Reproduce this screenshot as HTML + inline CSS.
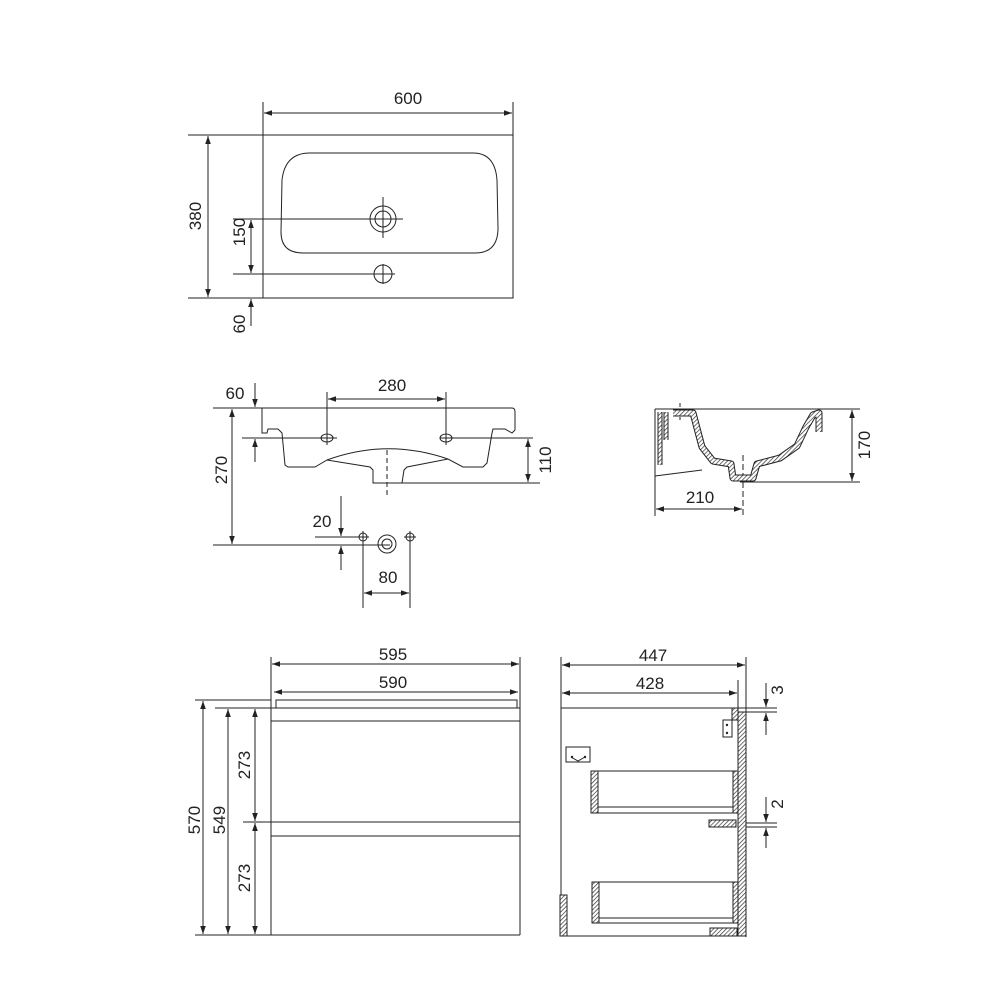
<!DOCTYPE html>
<html><head><meta charset="utf-8"><style>
html,body{margin:0;padding:0;background:#fff}
svg{display:block}
text{font-family:"Liberation Sans",sans-serif;font-size:17px;fill:#222}
</style></head><body>
<svg width="1000" height="1000" viewBox="0 0 1000 1000" xmlns="http://www.w3.org/2000/svg">
<defs>
<marker id="a" viewBox="0 0 10 10" refX="10" refY="5" markerWidth="10" markerHeight="8" orient="auto-start-reverse" markerUnits="userSpaceOnUse"><path d="M0,1.5 L10,5 L0,8.5 Z" fill="#222"/></marker>
<pattern id="h" width="3" height="3" patternUnits="userSpaceOnUse" patternTransform="rotate(45)"><rect width="3" height="3" fill="#fff"/><line x1="0" y1="0" x2="0" y2="3" stroke="#333" stroke-width="1.4"/></pattern>
</defs>
<g stroke="#222" stroke-width="1" fill="none">
<!-- TOP VIEW -->
<rect x="263" y="135" width="250" height="163"/>
<path d="M310,153 L473,153 Q495,153 497,180 L498,228 Q498,253 475,253 L303,253 Q281,253 281,232 L282,180 Q285,153 310,153 Z"/>
<circle cx="383" cy="219" r="13"/><circle cx="383" cy="219" r="8"/>
<line x1="383" y1="197" x2="383" y2="238"/>
<circle cx="383" cy="274" r="9"/><line x1="383" y1="264" x2="383" y2="284"/><line x1="373" y1="274" x2="395" y2="274"/>
<line x1="233" y1="219" x2="403" y2="219"/>
<line x1="233" y1="274" x2="373" y2="274"/>
<line x1="263" y1="102" x2="263" y2="135"/><line x1="513" y1="102" x2="513" y2="135"/>
<line x1="264" y1="113" x2="512" y2="113" marker-start="url(#a)" marker-end="url(#a)"/>
<line x1="188" y1="135" x2="263" y2="135"/><line x1="188" y1="298" x2="268" y2="298"/>
<line x1="208" y1="136" x2="208" y2="297" marker-start="url(#a)" marker-end="url(#a)"/>
<line x1="251" y1="220" x2="251" y2="273" marker-start="url(#a)" marker-end="url(#a)"/>
<line x1="251" y1="326" x2="251" y2="299" marker-end="url(#a)"/>

<!-- FRONT VIEW -->
<line x1="213" y1="408" x2="262" y2="408"/>
<path d="M262,408 L512,408 Q515,408 515,412 L515,430 L512,433 L505,429 L493,429 L492,433 L487,463 L483,467 L463,467 L448,459 L407,467 L404,470 L402,483 L373,483 L373,470 L370,467 L327,460 L315,467 L288,467 L285,465 L282,433 L278,429 L268,429 L267,433 L262,433 Z"/>
<path d="M327,460 Q387,438 448,459"/>
<line x1="387" y1="450" x2="387" y2="495" stroke-dasharray="5,3"/>
<ellipse cx="327" cy="438" rx="6" ry="4"/><ellipse cx="446" cy="438" rx="6" ry="4"/>
<line x1="242" y1="438" x2="337" y2="438"/><line x1="440" y1="438" x2="533" y2="438"/>
<line x1="327" y1="392" x2="327" y2="445"/><line x1="446" y1="392" x2="446" y2="445"/>
<line x1="328" y1="399" x2="445" y2="399" marker-start="url(#a)" marker-end="url(#a)"/>
<line x1="255" y1="383" x2="255" y2="407" marker-end="url(#a)"/>
<line x1="255" y1="462" x2="255" y2="439" marker-end="url(#a)"/>
<line x1="213" y1="545" x2="390" y2="545"/>
<line x1="232" y1="409" x2="232" y2="544" marker-start="url(#a)" marker-end="url(#a)"/>
<line x1="402" y1="483" x2="540" y2="483"/>
<line x1="528" y1="439" x2="528" y2="482" marker-start="url(#a)" marker-end="url(#a)"/>
<circle cx="363" cy="537" r="4"/><line x1="363" y1="531" x2="363" y2="608"/><line x1="357" y1="537" x2="369" y2="537"/>
<circle cx="410" cy="537" r="4"/><line x1="410" y1="531" x2="410" y2="608"/><line x1="404" y1="537" x2="416" y2="537"/>
<circle cx="387" cy="544" r="9"/><circle cx="387" cy="544" r="5"/>
<line x1="315" y1="537" x2="360" y2="537"/>
<line x1="341" y1="496" x2="341" y2="536" marker-end="url(#a)"/>
<line x1="341" y1="570" x2="341" y2="546" marker-end="url(#a)"/>
<line x1="364" y1="593" x2="409" y2="593" marker-start="url(#a)" marker-end="url(#a)"/>

<!-- SIDE SECTION -->
<line x1="655" y1="409" x2="860" y2="409"/>
<line x1="740" y1="482" x2="860" y2="482"/>
<line x1="655" y1="409" x2="655" y2="516"/>
<line x1="655" y1="476" x2="702" y2="470"/>
<line x1="852" y1="410" x2="852" y2="481" marker-start="url(#a)" marker-end="url(#a)"/>
<line x1="743" y1="455" x2="743" y2="516" stroke-dasharray="6,3"/>
<line x1="680" y1="403" x2="680" y2="420" stroke-dasharray="4,3"/>
<line x1="656" y1="509" x2="742" y2="509" marker-start="url(#a)" marker-end="url(#a)"/>
<path d="M673,413 L693,413 L702,447 L713,461 L731,464 L733,478 L753,478 L757,464 L780,458 L797,446 L806,427 L813,415 L819,413 L819,432" stroke="#222" stroke-width="7" stroke-linejoin="round"/>
<path d="M673,413 L693,413 L702,447 L713,461 L731,464 L733,478 L753,478 L757,464 L780,458 L797,446 L806,427 L813,415 L819,413 L819,432" stroke="url(#h)" stroke-width="5" stroke-linejoin="round"/>
<path d="M660,412 L660,465 M666,412 L666,440" stroke="#222" stroke-width="5"/>
<path d="M660,412 L660,465 M666,412 L666,440" stroke="url(#h)" stroke-width="3"/>

<!-- CABINET FRONT -->
<line x1="271" y1="657" x2="271" y2="935"/><line x1="520" y1="657" x2="520" y2="935"/>
<line x1="272" y1="664" x2="519" y2="664" marker-start="url(#a)" marker-end="url(#a)"/>
<line x1="274" y1="692" x2="518" y2="692" marker-start="url(#a)" marker-end="url(#a)"/>
<path d="M276,708 L276,700 L517,700 L517,708"/>
<line x1="195" y1="700" x2="271" y2="700"/>
<line x1="215" y1="708" x2="520" y2="708"/>
<line x1="271" y1="721" x2="520" y2="721"/>
<line x1="243" y1="822" x2="520" y2="822"/>
<line x1="271" y1="836" x2="520" y2="836"/>
<line x1="195" y1="935" x2="520" y2="935"/>
<line x1="203" y1="701" x2="203" y2="934" marker-start="url(#a)" marker-end="url(#a)"/>
<line x1="228" y1="709" x2="228" y2="934" marker-start="url(#a)" marker-end="url(#a)"/>
<line x1="255" y1="709" x2="255" y2="821" marker-start="url(#a)" marker-end="url(#a)"/>
<line x1="255" y1="823" x2="255" y2="934" marker-start="url(#a)" marker-end="url(#a)"/>

<!-- CABINET SIDE -->
<line x1="561" y1="657" x2="561" y2="936"/><line x1="746" y1="657" x2="746" y2="937"/>
<line x1="738" y1="680" x2="738" y2="710"/>
<line x1="562" y1="665" x2="745" y2="665" marker-start="url(#a)" marker-end="url(#a)"/>
<line x1="562" y1="693" x2="737" y2="693" marker-start="url(#a)" marker-end="url(#a)"/>
<line x1="561" y1="708" x2="777" y2="708"/>
<line x1="745" y1="712" x2="777" y2="712"/>
<line x1="561" y1="936" x2="746" y2="936"/>
<rect x="738" y="712" width="8" height="224" fill="url(#h)"/>
<rect x="732" y="708" width="6" height="12" fill="url(#h)"/>
<rect x="723" y="720" width="9" height="17" fill="#fff"/>
<rect x="566" y="747" width="24" height="15"/>
<path d="M571,757 L578,761 L585,757"/>
<rect x="591" y="771" width="7" height="42" fill="url(#h)"/>
<rect x="733" y="771" width="5" height="42" fill="url(#h)"/>
<line x1="598" y1="771" x2="733" y2="771"/>
<line x1="598" y1="807" x2="733" y2="807"/>
<line x1="598" y1="813" x2="733" y2="813"/>
<rect x="709" y="820" width="27" height="7" fill="url(#h)"/>
<line x1="746" y1="823" x2="777" y2="823"/><line x1="746" y1="827" x2="777" y2="827"/>
<rect x="592" y="882" width="7" height="41" fill="url(#h)"/>
<rect x="733" y="882" width="5" height="41" fill="url(#h)"/>
<line x1="599" y1="882" x2="733" y2="882"/>
<line x1="599" y1="918" x2="733" y2="918"/>
<line x1="599" y1="923" x2="733" y2="923"/>
<rect x="560" y="895" width="7" height="41" fill="url(#h)"/>
<rect x="710" y="928" width="27" height="8" fill="url(#h)"/>
<line x1="766" y1="683" x2="766" y2="707" marker-end="url(#a)"/>
<line x1="766" y1="735" x2="766" y2="713" marker-end="url(#a)"/>
<line x1="766" y1="797" x2="766" y2="822" marker-end="url(#a)"/>
<line x1="766" y1="848" x2="766" y2="828" marker-end="url(#a)"/>
</g>
<g fill="#222" stroke="none">
<circle cx="727" cy="725" r="1.2"/><circle cx="727" cy="733" r="1.2"/>
<circle cx="572" cy="757" r="1.2"/><circle cx="585" cy="757" r="1.2"/>
</g>
<g text-anchor="middle">
<text x="408" y="104">600</text>
<text transform="translate(201,216) rotate(-90)">380</text>
<text transform="translate(245,232) rotate(-90)">150</text>
<text transform="translate(245,324) rotate(-90)">60</text>
<text x="235" y="399">60</text>
<text x="392" y="391">280</text>
<text transform="translate(227,470) rotate(-90)">270</text>
<text transform="translate(551,460) rotate(-90)">110</text>
<text x="322" y="527">20</text>
<text x="388" y="583">80</text>
<text transform="translate(870,445) rotate(-90)">170</text>
<text x="700" y="503">210</text>
<text x="393" y="660">595</text>
<text x="393" y="688">590</text>
<text x="653" y="661">447</text>
<text x="650" y="689">428</text>
<text transform="translate(200,820) rotate(-90)">570</text>
<text transform="translate(225,820) rotate(-90)">549</text>
<text transform="translate(250,765) rotate(-90)">273</text>
<text transform="translate(250,878) rotate(-90)">273</text>
<text transform="translate(783,690) rotate(-90)">3</text>
<text transform="translate(783,804) rotate(-90)">2</text>
</g>
</svg>
</body></html>
